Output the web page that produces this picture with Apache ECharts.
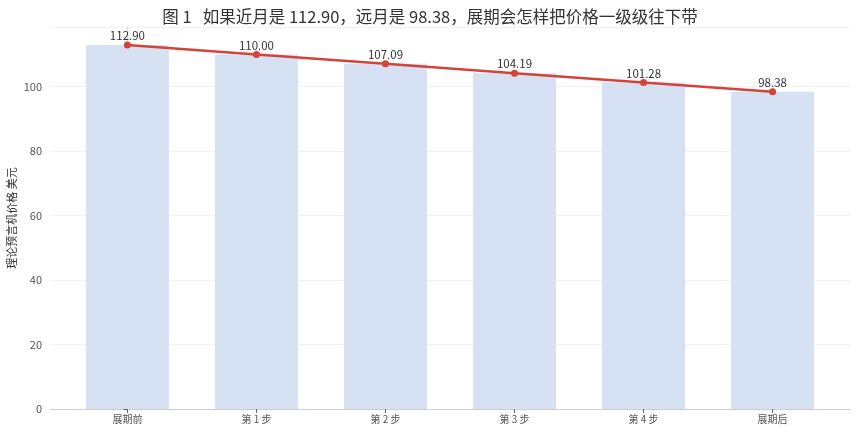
<!DOCTYPE html>
<html><head><meta charset="utf-8">
<script src="https://cdn.jsdelivr.net/npm/echarts@6/dist/echarts.min.js"></script>
<style>html,body{margin:0;padding:0;background:#fff}#c{width:860px;height:435px}</style>
</head><body><div id="c"></div>
<script>
const categories = ['展期前','第 1 步','第 2 步','第 3 步','第 4 步','展期后'];
const prices = [112.90, 110.00, 107.09, 104.19, 101.28, 98.38];
const yTicks = [0, 20, 40, 60, 80, 100];
const titleText = '图 1\u00a0\u00a0\u00a0如果近月是 112.90，远月是 98.38，展期会怎样把价格一级级往下带';
const yName = '理论预言机价格 美元';

const pts = prices.map((v, i) => [i, v]);
const chart = echarts.init(document.getElementById('c'));
const font = '"Noto Sans CJK SC", "Noto Sans", sans-serif';
chart.setOption({
  animation: false,
  textStyle: { fontFamily: font },
  title: { text: titleText, left: 'center', top: 3,
    textStyle: { fontSize: 16.5, fontWeight: 'normal', color: '#333', fontFamily: font } },
  grid: { left: 50, right: 10, top: 27, bottom: 26, outerBoundsMode: 'none', containLabel: false },
  xAxis: {
    type: 'value', min: -0.6, max: 5.6,
    axisLine: { show: true, lineStyle: { color: '#ccc' } },
    axisTick: { show: true, customValues: categories.map((c, i) => i), length: 4, lineStyle: { color: '#666' } },
    axisLabel: { customValues: categories.map((c, i) => i), formatter: v => categories[Math.round(v)], fontSize: 10, color: '#555', margin: 5 },
    splitLine: { show: false }
  },
  yAxis: {
    type: 'value', min: 0, max: 118.5, interval: 20,
    name: yName, nameLocation: 'middle', nameGap: 33, nameMoveOverlap: false,
    nameTextStyle: { fontSize: 11, color: '#333' },
    axisLine: { show: true, lineStyle: { color: '#ddd' } },
    axisTick: { show: true, length: 4, lineStyle: { color: '#666' } },
    axisLabel: { fontSize: 11, color: '#555', showMaxLabel: false },
    splitLine: { show: true, lineStyle: { color: '#f2f2f2' } }
  },
  series: [
    { type: 'bar', data: pts, barWidth: 83, itemStyle: { color: '#d6e2f4' }, z: 1 },
    { type: 'line', data: pts, symbol: 'circle', symbolSize: 7,
      lineStyle: { color: '#d4433a', width: 2.5 }, itemStyle: { color: '#d4433a' },
      label: { show: true, position: 'top', distance: 0, fontSize: 11.5, color: '#333',
        formatter: p => p.value[1].toFixed(2) }, z: 3 }
  ]
});
</script></body></html>
